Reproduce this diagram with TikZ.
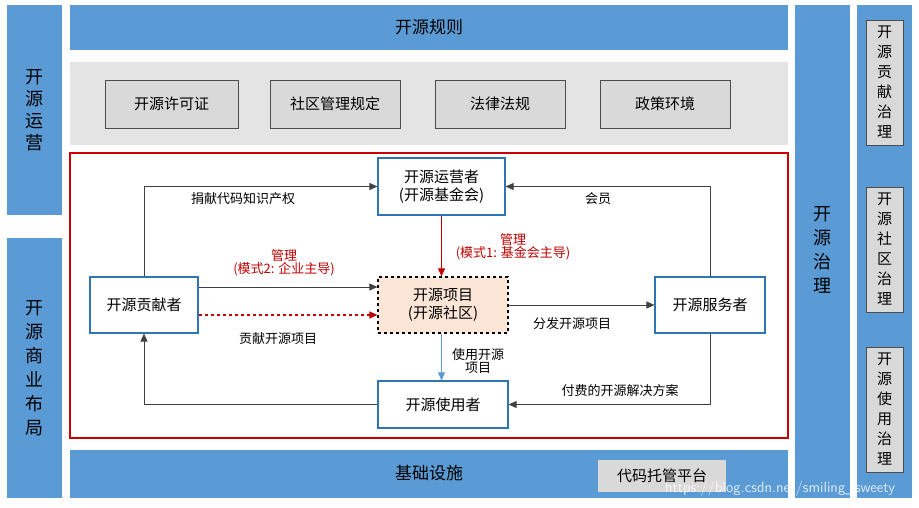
\documentclass[tikz,border=0pt]{standalone}
\usepackage{fontspec}
\setmainfont{Noto Sans CJK SC}
\usetikzlibrary{arrows.meta}
\definecolor{bl}{HTML}{5B9BD5}
\definecolor{gp}{HTML}{D9D9D9}
\definecolor{bx}{HTML}{2E75B6}
\definecolor{rd}{HTML}{C00000}
\definecolor{pj}{HTML}{FBE5D6}
\begin{document}
\begin{tikzpicture}[x=1pt,y=-1pt,
  bar/.style={fill=bl,draw=none},
  gb/.style={fill=gp,draw=black!70,line width=0.8pt,font=\fontsize{15}{15}\selectfont},
  nd/.style={draw=bx,line width=1.2pt,fill=white,font=\fontsize{15}{18}\selectfont,align=center},
  ar/.style={-{Triangle[length=8pt,width=7pt]},line width=0.8pt,black!75},
  lb/.style={font=\fontsize{13}{13}\selectfont,inner sep=1pt},
  rl/.style={font=\fontsize{13}{13}\selectfont,inner sep=1pt,text=rd,align=center}]
\useasboundingbox (0,0) rectangle (919,508);
\fill[white] (0,0) rectangle (919,508);
% left column
\fill[bar] (7,5) rectangle (62,215);
\node[font=\fontsize{18}{22}\selectfont,align=center] (yy) at (34.5,110) {开\\源\\运\\营};
\fill[bar] (7,238) rectangle (62,498);
\node[font=\fontsize{18}{24}\selectfont,align=center] (sy) at (34.5,368) {开\\源\\商\\业\\布\\局};
% top bar
\fill[bar] (70,5) rectangle (788,50);
\node[font=\fontsize{17}{17}\selectfont] (gz) at (429,27) {开源规则};
\fill[gp!70] (70,62) rectangle (788,145);
\node[gb,minimum width=133pt,minimum height=48pt] (a1) at (171.5,104) {开源许可证};
\node[gb,minimum width=130pt,minimum height=48pt] (a2) at (335,104) {社区管理规定};
\node[gb,minimum width=130pt,minimum height=48pt] (a3) at (500,104) {法律法规};
\node[gb,minimum width=130pt,minimum height=48pt] (a4) at (665,104) {政策环境};
% red frame
\draw[red!80!black,line width=1.2pt] (70,153) rectangle (788,438);
% bottom bar
\fill[bar] (70,450) rectangle (788,498);
\node[font=\fontsize{17}{17}\selectfont] (jc) at (429,473) {基础设施};
\node[fill=gp,minimum width=128pt,minimum height=32pt,font=\fontsize{15}{15}\selectfont] (dm) at (662,476) {代码托管平台};
% governance column
\fill[bar] (795,5) rectangle (850,498);
\node[font=\fontsize{18}{24}\selectfont,align=center] (zl) at (822.5,250) {开\\源\\治\\理};
\fill[bar] (857,5) rectangle (912,498);
\node[gb,minimum width=37pt,minimum height=125pt,align=center,inner sep=0pt,font=\fontsize{15}{20}\selectfont] (r1) at (884.5,82.5) {开\\源\\贡\\献\\治\\理};
\node[gb,minimum width=37pt,minimum height=125pt,align=center,inner sep=0pt,font=\fontsize{15}{20}\selectfont] (r2) at (884.5,249.5) {开\\源\\社\\区\\治\\理};
\node[gb,minimum width=37pt,minimum height=125pt,align=center,inner sep=0pt,font=\fontsize{15}{20}\selectfont] (r3) at (884.5,409.5) {开\\源\\使\\用\\治\\理};
% inner nodes
\node[nd,minimum width=127pt,minimum height=57pt] (op) at (441.5,186.5) {开源运营者\\(开源基金会)};
\node[nd,draw=black,dashed,fill=pj,minimum width=130pt,minimum height=56pt] (pr) at (443,305) {开源项目\\(开源社区)};
\node[nd,minimum width=108pt,minimum height=56pt] (ct) at (144,305) {开源贡献者};
\node[nd,minimum width=110pt,minimum height=56pt] (sv) at (710,305) {开源服务者};
\node[nd,minimum width=130pt,minimum height=47pt] (us) at (443,404.5) {开源使用者};
% edges
\draw[ar] (ct.north) |- (op.west);
\draw[ar] (sv.north) |- (op.east);
\draw[ar,rd,dashed,line width=1.4pt] ([yshift=-10pt]ct.east) -- ([yshift=-10pt]pr.west);
\draw[ar] ([yshift=18pt]ct.east) -- ([yshift=18pt]pr.west);
\draw[ar] (pr.east) -- (sv.west);
\draw[ar,rd] (op.south) -- (op.south |- pr.north);
\draw[ar,bl] (op.south |- pr.south) -- (op.south |- us.north);
\draw[ar] (sv.south) |- (us.east);
\draw[ar] (us.west) -| (ct.south);
% labels
\node[lb] (l1) at (243,199) {捐献代码知识产权};
\node[lb] (l2) at (598,199) {会员};
\node[rl] (l3) at (284,263) {管理\\(模式2: 企业主导)};
\node[rl] (l4) at (513,247) {管理\\(模式1: 基金会主导)};
\node[lb] (l5) at (278,339) {贡献开源项目};
\node[lb] (l6) at (572,324) {分发开源项目};
\node[lb,align=center] (l7) at (478,361) {使用开源\\项目};
\node[lb] (l8) at (620,391) {付费的开源解决方案};
\node[font=\sffamily\fontsize{15}{15}\selectfont,text=white,opacity=0.8] (wm) at (780,489) {https://blog.csdn.net/smiling\_sweety};
\end{tikzpicture}
\end{document}
